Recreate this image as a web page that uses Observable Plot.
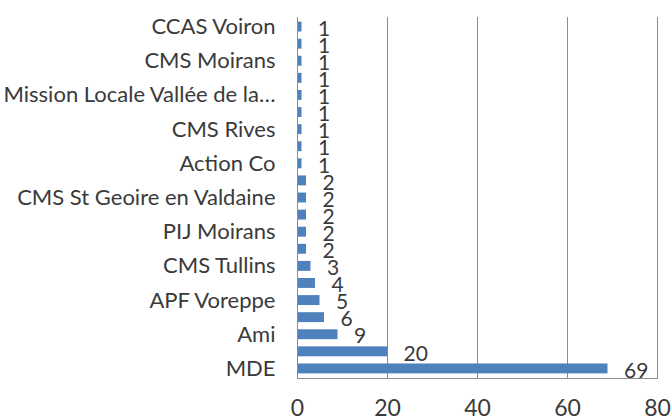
<!DOCTYPE html>
<html>
<head>
<meta charset="utf-8">
<script src="https://cdn.jsdelivr.net/npm/d3@7"></script>
<script src="https://cdn.jsdelivr.net/npm/@observablehq/plot@0.6"></script>
<style>
  html, body { margin: 0; padding: 0; background: #fff; }
  #chart svg text { font-family: Lato, "Open Sans", sans-serif; fill: #3a3a3a; }
  #chart svg g[aria-label="y-axis tick label"] text { font-size: 22px; }
</style>
</head>
<body>
<div id="chart"></div>
<script>
// Categories listed top to bottom; "" = label not shown on the axis in the reference
const categories = [
  "CCAS Voiron", "", "CMS Moirans", "", "Mission Locale Vallée de la…", "",
  "CMS Rives", "", "Action Co", "", "CMS St Geoire en Valdaine", "",
  "PIJ Moirans", "", "CMS Tullins", "", "APF Voreppe", "", "Ami", "", "MDE"
];
const values = [1, 1, 1, 1, 1, 1, 1, 1, 1, 2, 2, 2, 2, 2, 3, 4, 5, 6, 9, 20, 69];
const xTicks = [0, 20, 40, 60, 80];

const data = values.map((v, i) => ({idx: i, name: categories[i], value: v}));

const chart = Plot.plot({
  width: 672,
  height: 420,
  marginTop: 17,
  marginBottom: 42,
  marginLeft: 297,
  marginRight: 15,
  style: {fontFamily: "Lato", fontSize: "20px", color: "#3a3a3a", background: "#fff"},
  x: {domain: [0, 80], ticks: xTicks},
  y: {domain: d3.range(categories.length), paddingInner: 0.42, paddingOuter: 0.27, round: false},
  marks: [
    Plot.gridX(xTicks.slice(1), {stroke: "#8c8c8c", strokeOpacity: 1}),
    Plot.barX(data, {x: "value", y: "idx", fill: "#4F81BD"}),
    Plot.text(data, {x: "value", y: "idx", text: "value", textAnchor: "start", dx: 16, dy: 2, fontSize: 21}),
    Plot.ruleX([0], {stroke: "#8c8c8c"}),
    Plot.frame({anchor: "bottom", stroke: "#8c8c8c"}),
    Plot.axisY({tickSize: 0, tickPadding: 22, tickFormat: i => categories[i], label: null}),
    Plot.axisX({ticks: xTicks, tickSize: 0, tickPadding: 21, label: null, fontSize: 23})
  ]
});
document.getElementById("chart").appendChild(chart);
</script>
</body>
</html>
